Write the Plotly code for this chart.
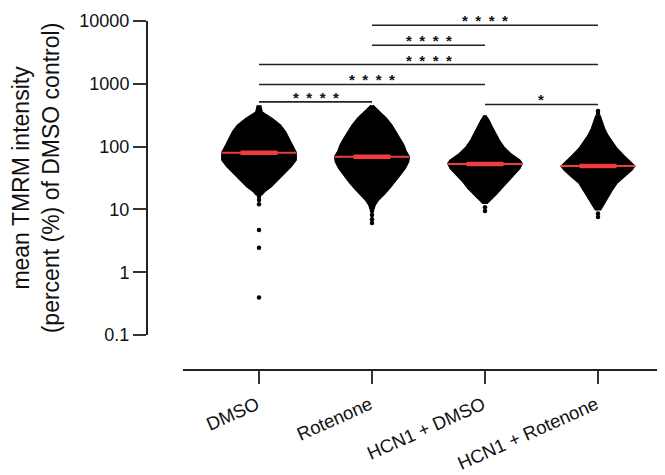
import numpy as np
import plotly.graph_objects as go

# ---------------- data ----------------
categories = ["DMSO", "Rotenone", "HCN1 + DMSO", "HCN1 + Rotenone"]

# Swarm outline: value levels (top -> bottom) and half-spread of the swarm
# at each level (in category-spacing units, reflects point density)
dmso_levels = [457, 357, 281, 220, 172, 135, 106, 81, 61, 48, 37.5, 29.3, 23, 19.1, 16.9]
dmso_spread = [0.015, 0.029, 0.118, 0.192, 0.236, 0.265, 0.295, 0.330, 0.330, 0.286, 0.227, 0.168, 0.109, 0.050, 0.024]
dmso_single = [15.9, 14.1, 12.1, 4.7, 2.46, 0.394]

rot_levels = [457, 357, 281, 220, 172, 135, 106, 83, 69, 57, 45, 35.2, 27.5, 21.6, 16.9, 14.1, 11.7, 9.8]
rot_spread = [0.009, 0.068, 0.130, 0.177, 0.212, 0.250, 0.283, 0.305, 0.332, 0.325, 0.295, 0.250, 0.206, 0.157, 0.104, 0.059, 0.029, 0.015]
rot_single = [9.4, 8.15, 7.0, 6.1]

hcn_dmso_levels = [317, 264, 206, 162, 127, 99, 78, 61, 54, 45, 35.2, 27.5, 21.6, 16.9, 14.1, 12.5]
hcn_dmso_spread = [0.006, 0.035, 0.065, 0.097, 0.127, 0.168, 0.227, 0.310, 0.330, 0.310, 0.257, 0.197, 0.153, 0.095, 0.050, 0.020]
hcn_dmso_single = [10.8, 9.4]

hcn_rot_levels = [317, 248, 195, 152, 119, 94, 73, 57, 49, 42.3, 33, 26, 20.3, 15.9, 12.5, 9.8]
hcn_rot_spread = [0.018, 0.038, 0.059, 0.088, 0.127, 0.168, 0.227, 0.286, 0.327, 0.301, 0.236, 0.168, 0.127, 0.091, 0.059, 0.024]
hcn_rot_single = [370, 335, 8.6, 7.6]

medians = [80, 69, 53, 49]

comparison_pairs = [(1, 3), (1, 2), (0, 3), (0, 2), (0, 1), (2, 3)]
comparison_heights = [8550, 4110, 2028, 975, 515, 469]
comparison_labels = ["****", "****", "****", "****", "****", "*"]

y_tick_values = [0.1, 1, 10, 100, 1000, 10000]
y_tick_labels = ["0.1", "1", "10", "100", "1000", "10000"]

# ---------------- figure ----------------
FONT = "Liberation Sans, Arial, sans-serif"
INK = "#111111"
RED = "#f03c3c"

groups = [
    (dmso_levels, dmso_spread, dmso_single),
    (rot_levels, rot_spread, rot_single),
    (hcn_dmso_levels, hcn_dmso_spread, hcn_dmso_single),
    (hcn_rot_levels, hcn_rot_spread, hcn_rot_single),
]

fig = go.Figure()

for i, (lv, sp, single) in enumerate(groups):
    lv = list(lv)
    sp = list(sp)
    xs = [i + s for s in sp] + [i - s for s in sp[::-1]]
    ys = lv + lv[::-1]
    fig.add_trace(go.Scatter(
        x=xs, y=ys, mode="lines", fill="toself", fillcolor="black",
        line=dict(color="black", width=1.2, shape="linear"),
        hoverinfo="skip", showlegend=False))
    fig.add_trace(go.Scatter(
        x=[i] * len(single), y=single, mode="markers",
        marker=dict(color="black", size=4.5, line=dict(width=0)),
        showlegend=False, hoverinfo="skip"))

for i, m in enumerate(medians):
    fig.add_trace(go.Scatter(
        x=[i - 0.332, i + 0.332], y=[m, m], mode="lines",
        line=dict(color=RED, width=2), showlegend=False, hoverinfo="skip"))
    fig.add_trace(go.Scatter(
        x=[i - 0.164, i + 0.164], y=[m, m], mode="lines",
        line=dict(color=RED, width=4.5), showlegend=False, hoverinfo="skip"))

annotations = []
for (a, b), h, lab in zip(comparison_pairs, comparison_heights, comparison_labels):
    fig.add_trace(go.Scatter(
        x=[a, b], y=[h, h], mode="lines",
        line=dict(color="#222222", width=1.6), showlegend=False, hoverinfo="skip"))
    annotations.append(dict(
        x=(a + b) / 2, y=np.log10(h), xref="x", yref="y",
        text="<b>" + "\u2002".join(list(lab)) + "</b>", showarrow=False,
        xanchor="center", yanchor="bottom", yshift=-6,
        font=dict(family=FONT, size=15, color=INK)))

# the page body has an 8px margin; the figure is sized so it ends at 665x475
OFF = 8
W, H = 665 - OFF, 475 - OFF
ml, mr, mt, mb = 147 - OFF, 0, 21 - OFF, 105
pw, ph = W - ml - mr, H - mt - mb

fig.update_layout(
    width=W, height=H,
    margin=dict(l=ml, r=mr, t=mt, b=mb, pad=0),
    paper_bgcolor="white", plot_bgcolor="white",
    showlegend=False,
    font=dict(family=FONT, color=INK),
    annotations=annotations,
    xaxis=dict(
        domain=[(183 - 147) / pw, 1], anchor="free", position=0,
        range=[-0.6726, 3.593],
        tickmode="array", tickvals=list(range(len(categories))), ticktext=categories,
        tickangle=-24, ticklabelshift=-2, ticklabelstandoff=3,
        ticks="outside", ticklen=13, tickwidth=2, tickcolor="#333333",
        showline=True, linecolor="#222222", linewidth=2,
        showgrid=False, zeroline=False,
        tickfont=dict(family=FONT, size=18.5, color=INK),
    ),
    yaxis=dict(
        type="log", range=[-1, 4],
        domain=[(370 - 335) / ph, 1],
        anchor="free", position=0,
        tickmode="array", tickvals=y_tick_values, ticktext=y_tick_labels,
        ticks="outside", ticklen=13, tickwidth=2, tickcolor="#333333",
        showline=True, linecolor="#222222", linewidth=2,
        showgrid=False, zeroline=False,
        tickfont=dict(family=FONT, size=18, color=INK),
        title=dict(text="mean TMRM intensity<br>(percent (%) of DMSO control)",
                   font=dict(family=FONT, size=23, color=INK), standoff=12),
    ),
)

fig.write_html("out.html")
